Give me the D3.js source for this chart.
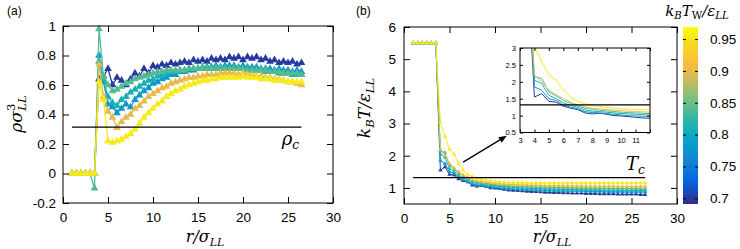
<!DOCTYPE html>
<html>
<head>
<meta charset="utf-8">
<script src="https://cdn.jsdelivr.net/npm/d3@7"></script>
<style>
  body { margin: 0; background: #fff; }
  .math { font-family: "DejaVu Serif", "Liberation Serif", serif; font-style: italic; }
</style>
</head>
<body>
<svg id="chart" width="740" height="249"></svg>
<script>
// radial positions r/sigma_LL
const r = [1,1.5,2,2.5,3,3.5,4,4.5,5,5.5,6,6.5,7,7.5,8,8.5,9,9.5,10,10.5,11,11.5,12,12.5,13,13.5,
           14,14.5,15,15.5,16,16.5,17,17.5,18,18.5,19,19.5,20,20.5,21,21.5,22,22.5,23,23.5,24,24.5,25,25.5,26,26.5];

// wall temperatures k_B T_W / eps_LL of the six runs
const tw = [0.70, 0.78, 0.81, 0.84, 0.90, 0.955];

// panel (a): density rho sigma^3
const rho070 = [0,0,0,0,0,0, 0.64,0.66,0.71,0.60,0.65,0.63,0.60,0.64,0.68,0.66, 0.71,0.68,0.73,0.72,0.74,0.73,0.75,0.74,0.75,0.76,
  0.75,0.77,0.76,0.77,0.76,0.78,0.77,0.78,0.77,0.79, 0.78,0.79,0.77,0.79,0.78,0.79,0.77,0.78,0.76,0.77, 0.75,0.76,0.75,0.76,0.74,0.75];
const rho078 = [0,0,0,0,0,0, 0.80,0.62,0.47,0.45,0.41,0.44,0.47,0.45,0.50,0.53, 0.56,0.58,0.61,0.62,0.64,0.65,0.67,0.67,0.69,0.69,
  0.70,0.70,0.71,0.71,0.72,0.72,0.73,0.72,0.73,0.73, 0.73,0.72,0.73,0.72,0.72,0.72,0.71,0.71,0.71,0.70, 0.71,0.70,0.70,0.69,0.70,0.69];
const rho081 = [0,0,0,0,0,0, 0.76,0.64,0.52,0.48,0.46,0.50,0.52,0.55,0.57,0.59, 0.61,0.63,0.64,0.66,0.67,0.68,0.69,0.69,0.70,0.70,
  0.71,0.71,0.71,0.72,0.72,0.72,0.72,0.72,0.72,0.71, 0.72,0.71,0.71,0.71,0.70,0.70,0.70,0.69,0.69,0.69, 0.68,0.68,0.68,0.67,0.67,0.67];
const rho084 = [0,0,0,0,0,-0.10, 0.98,0.66,0.60,0.56,0.57,0.59,0.61,0.62,0.64,0.65, 0.66,0.67,0.68,0.69,0.69,0.70,0.70,0.70,0.70,0.70,
  0.71,0.71,0.71,0.71,0.71,0.71,0.71,0.71,0.71,0.71, 0.71,0.71,0.71,0.70,0.70,0.70,0.70,0.70,0.69,0.69, 0.69,0.68,0.68,0.68,0.68,0.67];
const rho090 = [0,0,0,0,0,0, 0.74,0.52,0.42,0.38,0.31,0.35,0.38,0.40,0.44,0.46, 0.49,0.52,0.54,0.56,0.58,0.59,0.61,0.62,0.63,0.64,
  0.65,0.65,0.66,0.66,0.67,0.67,0.67,0.68,0.68,0.68, 0.68,0.67,0.68,0.67,0.67,0.66,0.66,0.65,0.65,0.64, 0.64,0.63,0.62,0.62,0.61,0.60];
const rho0955 = [0,0,0,0,0,0, 0.62,0.50,0.22,0.21,0.22,0.23,0.25,0.27,0.30,0.34, 0.38,0.41,0.44,0.47,0.49,0.52,0.54,0.56,0.57,0.59,
  0.60,0.61,0.62,0.63,0.63,0.64,0.64,0.65,0.65,0.65, 0.65,0.65,0.66,0.65,0.65,0.65,0.64,0.64,0.64,0.63, 0.63,0.63,0.62,0.62,0.62,0.62];

// panel (b): temperature k_B T / eps_LL
const kt070 = [5.5,5.5,5.5,5.5,5.5,5.5, 1.55,1.65,1.42,1.40,1.28,1.22,1.18,1.08,1.05,1.07, 1.04,1.00,0.99,0.97,0.95,0.93,0.92,0.91,0.90,0.89,
  0.88,0.88,0.87,0.86,0.86,0.85,0.85,0.84,0.84,0.83, 0.83,0.83,0.82,0.82,0.82,0.81,0.81,0.81,0.81,0.80, 0.80,0.80,0.80,0.80,0.79,0.79];
const kt078 = [5.5,5.5,5.5,5.5,5.5,5.5, 1.85,1.75,1.50,1.45,1.32,1.25,1.20,1.12,1.09,1.08, 1.06,1.04,1.02,1.00,0.99,0.98,0.97,0.96,0.95,0.94,
  0.94,0.93,0.93,0.92,0.92,0.91,0.91,0.91,0.90,0.90, 0.90,0.90,0.89,0.89,0.89,0.89,0.88,0.88,0.88,0.88, 0.88,0.87,0.87,0.87,0.87,0.87];
const kt081 = [5.5,5.5,5.5,5.5,5.5,5.5, 2.05,1.95,1.60,1.50,1.38,1.30,1.24,1.17,1.13,1.12, 1.10,1.08,1.06,1.05,1.04,1.03,1.02,1.01,1.00,0.99,
  0.99,0.98,0.98,0.97,0.97,0.96,0.96,0.96,0.95,0.95, 0.95,0.95,0.94,0.94,0.94,0.94,0.93,0.93,0.93,0.93, 0.93,0.92,0.92,0.92,0.92,0.92];
const kt084 = [5.5,5.5,5.5,5.5,5.5,5.5, 2.15,2.10,1.70,1.58,1.45,1.36,1.28,1.22,1.18,1.16, 1.14,1.12,1.10,1.09,1.08,1.07,1.06,1.05,1.05,1.04,
  1.04,1.03,1.03,1.02,1.02,1.02,1.01,1.01,1.01,1.00, 1.00,1.00,1.00,0.99,0.99,0.99,0.99,0.99,0.98,0.98, 0.98,0.98,0.98,0.98,0.97,0.97];
const kt090 = [5.5,5.5,5.5,5.5,5.5,5.5, 2.20,2.00,1.75,1.62,1.50,1.40,1.32,1.26,1.22,1.20, 1.18,1.16,1.15,1.13,1.12,1.11,1.10,1.10,1.09,1.09,
  1.08,1.08,1.08,1.07,1.07,1.07,1.07,1.06,1.06,1.06, 1.06,1.06,1.05,1.05,1.05,1.05,1.05,1.05,1.05,1.04, 1.04,1.04,1.04,1.04,1.04,1.04];
const kt0955 = [5.5,5.5,5.5,5.5,5.5,5.5, 3.05,2.60,2.20,2.05,1.75,1.55,1.42,1.35,1.30,1.27, 1.24,1.22,1.20,1.19,1.18,1.17,1.17,1.16,1.16,1.16,
  1.15,1.15,1.15,1.15,1.15,1.15,1.15,1.15,1.15,1.15, 1.15,1.15,1.15,1.15,1.15,1.15,1.15,1.15,1.15,1.15, 1.15,1.15,1.15,1.15,1.15,1.15];

const rhoSeries = [rho070, rho078, rho081, rho084, rho090, rho0955];
const ktSeries = [kt070, kt078, kt081, kt084, kt090, kt0955];

const rhoC = 0.315;   // critical density
const tC = 1.32;      // critical temperature

const xTicks = [0, 5, 10, 15, 20, 25, 30];
const rhoTicks = [-0.2, 0, 0.2, 0.4, 0.6, 0.8, 1];
const ktTicks = [1, 2, 3, 4, 5, 6];
const insetXTicks = [3, 4, 5, 6, 7, 8, 9, 10, 11, 12];
const insetYTicks = [0.5, 1, 1.5, 2, 2.5, 3];
const cbTicks = [0.7, 0.75, 0.8, 0.85, 0.9, 0.95];

// parula-like colour map
const parulaStops = ["#352a87","#0363e1","#1485d4","#06a7c6","#38b99e","#92bf73","#d6ba58","#fbbc3d","#f4d923","#f9fb0e"];
const parulaPos = [0, 0.125, 0.25, 0.375, 0.5, 0.625, 0.72, 0.8, 0.9, 1];
const parula = d3.scaleLinear().domain(parulaPos).range(parulaStops).interpolate(d3.interpolateRgb);
const cbDomain = [0.691, 0.969];
const colorOf = t => parula((t - cbDomain[0]) / (cbDomain[1] - cbDomain[0]));

const svg = d3.select("#chart");
const numFont = '"Liberation Sans", Arial, sans-serif';

function fmt(d) { return String(+d.toFixed(2)); }

function frame(g, x, y, o) {
  const [x0, x1] = x.range(), [y0, y1] = y.range();
  const style = a => a.attr("font-size", o.fs).attr("font-family", numFont)
    .call(s => s.select(".domain").remove())
    .call(s => s.selectAll(".tick line").attr("stroke", "#000"))
    .call(s => s.selectAll(".tick text").attr("fill", "#000"));
  g.append("g").attr("transform", `translate(0,${y0})`)
    .call(d3.axisBottom(x).tickValues(o.xt).tickSize(-o.tl).tickPadding(o.xpad).tickFormat(o.xf || fmt)).call(style);
  g.append("g").attr("transform", `translate(0,${y1})`)
    .call(d3.axisTop(x).tickValues(o.xt).tickSize(-o.tl).tickFormat("")).call(style);
  g.append("g").attr("transform", `translate(${x0},0)`)
    .call(d3.axisLeft(y).tickValues(o.yt).tickSize(-o.tl).tickPadding(o.ypad).tickFormat(fmt)).call(style);
  g.append("g").attr("transform", `translate(${x1},0)`)
    .call(d3.axisRight(y).tickValues(o.yt).tickSize(-o.tl).tickFormat("")).call(style);
  g.append("rect").attr("x", x0).attr("y", y1).attr("width", x1 - x0).attr("height", y0 - y1)
    .attr("fill", "none").attr("stroke", "#000").attr("stroke-width", 1);
}

function mathText(g, parts, size) {
  const t = g.append("text").attr("class", "math").attr("font-size", size).attr("fill", "#000");
  let shift = 0;
  parts.forEach(p => {
    const s = t.append("tspan").text(p.t);
    const target = p.k === "sub" ? size * 0.22 : p.k === "sup" ? -size * 0.42 : 0;
    s.attr("dy", target - shift);
    shift = target;
    if (p.k) s.attr("font-size", size * 0.68);
    if (p.up) s.attr("font-style", "normal");
    if (p.dx) s.attr("dx", p.dx);
  });
  return t;
}

function drawSeries(g, x, y, vals, color, sym, lw) {
  g.append("path").datum(vals).attr("fill", "none").attr("stroke", color).attr("stroke-width", lw)
    .attr("stroke-linejoin", "round")
    .attr("d", d3.line().x((d, i) => x(r[i])).y(d => y(d)));
  if (sym) {
    g.append("g").selectAll("path").data(vals).join("path")
      .attr("d", sym)
      .attr("transform", (d, i) => `translate(${x(r[i])},${y(d)})`)
      .attr("fill", color);
  }
}

// ---------- panel (a) ----------
const xa = d3.scaleLinear().domain([0, 30]).range([63, 333]);
const ya = d3.scaleLinear().domain([-0.2, 1]).range([203, 26]);
const ga = svg.append("g");
const triBig = d3.symbol(d3.symbolTriangle, 26)();
rhoSeries.forEach((s, i) => drawSeries(ga, xa, ya, s, colorOf(tw[i]), triBig, 1.3));
ga.append("line").attr("x1", xa(r[0])).attr("x2", xa(r[r.length - 1]))
  .attr("y1", ya(rhoC)).attr("y2", ya(rhoC)).attr("stroke", "#000").attr("stroke-width", 1.3);
frame(ga, xa, ya, { xt: xTicks, yt: rhoTicks, tl: 6, fs: 13.5, xpad: 9, ypad: 7 });
mathText(ga, [{ t: "ρ" }, { t: "c", k: "sub" }], 18).attr("x", xa(24.3)).attr("y", ya(0.19));
mathText(ga, [{ t: "ρσ" }, { t: "3", k: "sup", up: true }, { t: "LL", k: "sub", dx: -7 }], 17)
  .attr("text-anchor", "middle").attr("transform", "translate(22,114) rotate(-90)");
mathText(ga, [{ t: "r" }, { t: "/σ" }, { t: "LL", k: "sub" }], 16)
  .attr("text-anchor", "middle").attr("x", 205).attr("y", 242);
ga.append("text").attr("x", 7).attr("y", 15).attr("font-size", 12).attr("font-family", numFont).text("(a)");

// ---------- panel (b) ----------
const xb = d3.scaleLinear().domain([0, 30]).range([404, 677]);
const yb = d3.scaleLinear().domain([0.5, 6]).range([204, 27]);
const gb = svg.append("g");
const triSmall = d3.symbol(d3.symbolTriangle, 8)();
ktSeries.forEach((s, i) => drawSeries(gb, xb, yb, s, colorOf(tw[i]), triSmall, 1));
gb.append("line").attr("x1", xb(r[0])).attr("x2", xb(r[r.length - 1]))
  .attr("y1", yb(tC)).attr("y2", yb(tC)).attr("stroke", "#000").attr("stroke-width", 1.3);
frame(gb, xb, yb, { xt: xTicks, yt: ktTicks, tl: 6, fs: 13.5, xpad: 9, ypad: 8 });
mathText(gb, [{ t: "T" }, { t: "c", k: "sub" }], 18).attr("x", xb(24.4)).attr("y", yb(1.56));
mathText(gb, [{ t: "k" }, { t: "B", k: "sub" }, { t: "T/ε" }, { t: "LL", k: "sub" }], 17)
  .attr("text-anchor", "middle").attr("transform", "translate(370,108) rotate(-90)");
mathText(gb, [{ t: "r" }, { t: "/σ" }, { t: "LL", k: "sub" }], 16)
  .attr("text-anchor", "middle").attr("x", 552).attr("y", 242);
gb.append("text").attr("x", 356).attr("y", 15).attr("font-size", 12).attr("font-family", numFont).text("(b)");

// arrow towards the inset
const a0 = [xb(6.5), yb(1.8)], a1 = [xb(11.3), yb(2.62)];
const ang = Math.atan2(a1[1] - a0[1], a1[0] - a0[0]);
const head = 8, wing = 3.2;
const back = [a1[0] - head * Math.cos(ang), a1[1] - head * Math.sin(ang)];
gb.append("line").attr("x1", a0[0]).attr("y1", a0[1]).attr("x2", back[0]).attr("y2", back[1])
  .attr("stroke", "#000").attr("stroke-width", 1.3);
gb.append("path").attr("fill", "#000").attr("d", `M${a1[0]},${a1[1]}L${back[0] - wing * Math.sin(ang)},${back[1] + wing * Math.cos(ang)}L${back[0] + wing * Math.sin(ang)},${back[1] - wing * Math.cos(ang)}Z`);

// ---------- inset ----------
const xi = d3.scaleLinear().domain([3, 12]).range([520, 650]);
const yi = d3.scaleLinear().domain([0.5, 3]).range([132.5, 48]);
const gi = svg.append("g");
gi.append("rect").attr("x", 520).attr("y", 48).attr("width", 130).attr("height", 84.5).attr("fill", "#fff");
svg.append("clipPath").attr("id", "insetClip").append("rect")
  .attr("x", 520).attr("y", 48).attr("width", 130).attr("height", 84.5);
const gic = gi.append("g").attr("clip-path", "url(#insetClip)");
ktSeries.forEach((s, i) => drawSeries(gic, xi, yi, s, colorOf(tw[i]), null, 1));
gic.append("line").attr("x1", 520).attr("x2", 650).attr("y1", yi(tC)).attr("y2", yi(tC))
  .attr("stroke", "#000").attr("stroke-width", 1.2);
frame(gi, xi, yi, { xt: insetXTicks, yt: insetYTicks, tl: 3, fs: 7.5, xpad: 5, ypad: 4,
  xf: d => d === 12 ? "" : String(d) });

// ---------- colour bar ----------
const cy = d3.scaleLinear().domain(cbDomain).range([204, 27]);
const gc = svg.append("g");
const grad = svg.append("defs").append("linearGradient").attr("id", "cbGrad")
  .attr("x1", 0).attr("y1", 1).attr("x2", 0).attr("y2", 0);
grad.selectAll("stop").data(parulaStops).join("stop")
  .attr("offset", (d, i) => parulaPos[i]).attr("stop-color", d => d);
gc.append("rect").attr("x", 683).attr("y", 27).attr("width", 15).attr("height", 177).attr("fill", "url(#cbGrad)");
gc.append("g").attr("transform", "translate(698,0)")
  .call(d3.axisRight(cy).tickValues(cbTicks).tickSize(-3).tickPadding(12).tickFormat(fmt))
  .attr("font-size", 13.5).attr("font-family", numFont)
  .call(s => s.select(".domain").remove());
gc.append("g").attr("transform", "translate(683,0)")
  .call(d3.axisLeft(cy).tickValues(cbTicks).tickSize(-3).tickFormat(""))
  .call(s => s.select(".domain").remove());
mathText(gc, [{ t: "k" }, { t: "B", k: "sub" }, { t: "T" }, { t: "W", k: "sub", up: true }, { t: "/ε" }, { t: "LL", k: "sub" }], 15)
  .attr("text-anchor", "middle").attr("x", 697).attr("y", 16);
</script>
</body>
</html>
